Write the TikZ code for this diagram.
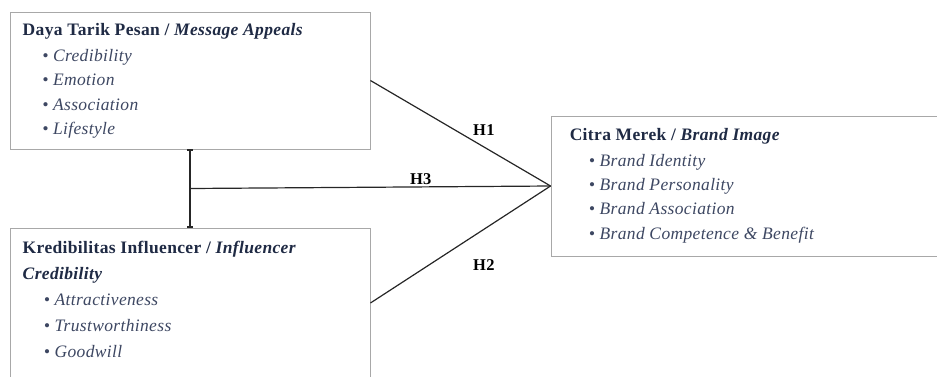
\documentclass[tikz,border=0pt]{standalone}
\usepackage{fontspec}
\setmainfont{Liberation Serif}[LetterSpace=2]
\usetikzlibrary{arrows.meta,positioning}

\definecolor{navy}{HTML}{1F2A44}
\definecolor{itemgray}{HTML}{3D4762}
\definecolor{framegray}{HTML}{A8A8A8}

% baris-baris teks, baseline = baris pertama
\newcommand{\rows}[1]{\begin{tabular}[t]{@{}l@{}}#1\end{tabular}}

\tikzset{
    box/.style={draw=framegray, line width=0.9pt, rectangle, inner sep=0pt},
    title/.style={anchor=base west, inner sep=0pt, text=navy,
        font=\fontsize{17.5}{26}\selectfont\bfseries},
    items/.style={anchor=base west, inner sep=0pt, text=itemgray,
        font=\fontsize{17.5}{24.5}\selectfont\itshape},
    link/.style={draw=black!85, line width=1.2pt},
    hyp/.style={inner sep=0pt, font=\fontsize{16.5}{18}\selectfont\bfseries}
}

\begin{document}
\begin{tikzpicture}[x=1pt,y=-1pt]
    \useasboundingbox (0,0) rectangle (937,376);

    % kotak variabel
    \node[box, minimum width=360pt, minimum height=137pt] (msg)   at (190,80.5) {};
    \node[box, minimum width=360pt, minimum height=150pt] (infl)  at (190,303) {};
    \node[box, minimum width=394pt, minimum height=140pt] (brand) at (748,186) {};

    % judul dan indikator
    \node[title] (msgtitle) at ([shift={(13,24)}]msg.north west)
        {\rows{Daya Tarik Pesan / \itshape Message Appeals}};
    \node[items] (msgitems) at ([shift={(19.5pt,-25.7pt)}]msgtitle.base west)
        {\rows{\textbullet\ Credibility\\ \textbullet\ Emotion\\ \textbullet\ Association\\ \textbullet\ Lifestyle}};

    \node[title] (infltitle) at ([shift={(13,26)}]infl.north west)
        {\rows{Kredibilitas Influencer / \itshape Influencer\\ \itshape Credibility}};
    \node[items, font=\fontsize{17.5}{26}\selectfont\itshape] (inflitems)
        at ([shift={(21pt,-52pt)}]infltitle.base west)
        {\rows{\textbullet\ Attractiveness\\ \textbullet\ Trustworthiness\\ \textbullet\ Goodwill}};

    \node[title] (brandtitle) at ([shift={(19,24.7)}]brand.north west)
        {\rows{Citra Merek / \itshape Brand Image}};
    \node[items, font=\fontsize{17.5}{24.3}\selectfont\itshape] (branditems)
        at ([shift={(19pt,-26pt)}]brandtitle.base west)
        {\rows{\textbullet\ Brand Identity\\ \textbullet\ Brand Personality\\ \textbullet\ Brand Association\\
         \textbullet\ Brand Competence \& Benefit}};

    % hubungan hipotesis
    \draw[link] (msg.east) -- node[hyp, pos=0.63, above=11pt] {H1} (brand.west);
    \draw[link] (infl.east) -- node[hyp, pos=0.63, below=30pt] {H2} (brand.west);
    \draw[link, {Bar[width=6pt]}-{Bar[width=6pt]}] (msg.south) -- coordinate[pos=0.5] (mid) (infl.north);
    \draw[link] (mid) -- node[hyp, pos=0.64, above=2pt] {H3} (brand.west);
\end{tikzpicture}
\end{document}
